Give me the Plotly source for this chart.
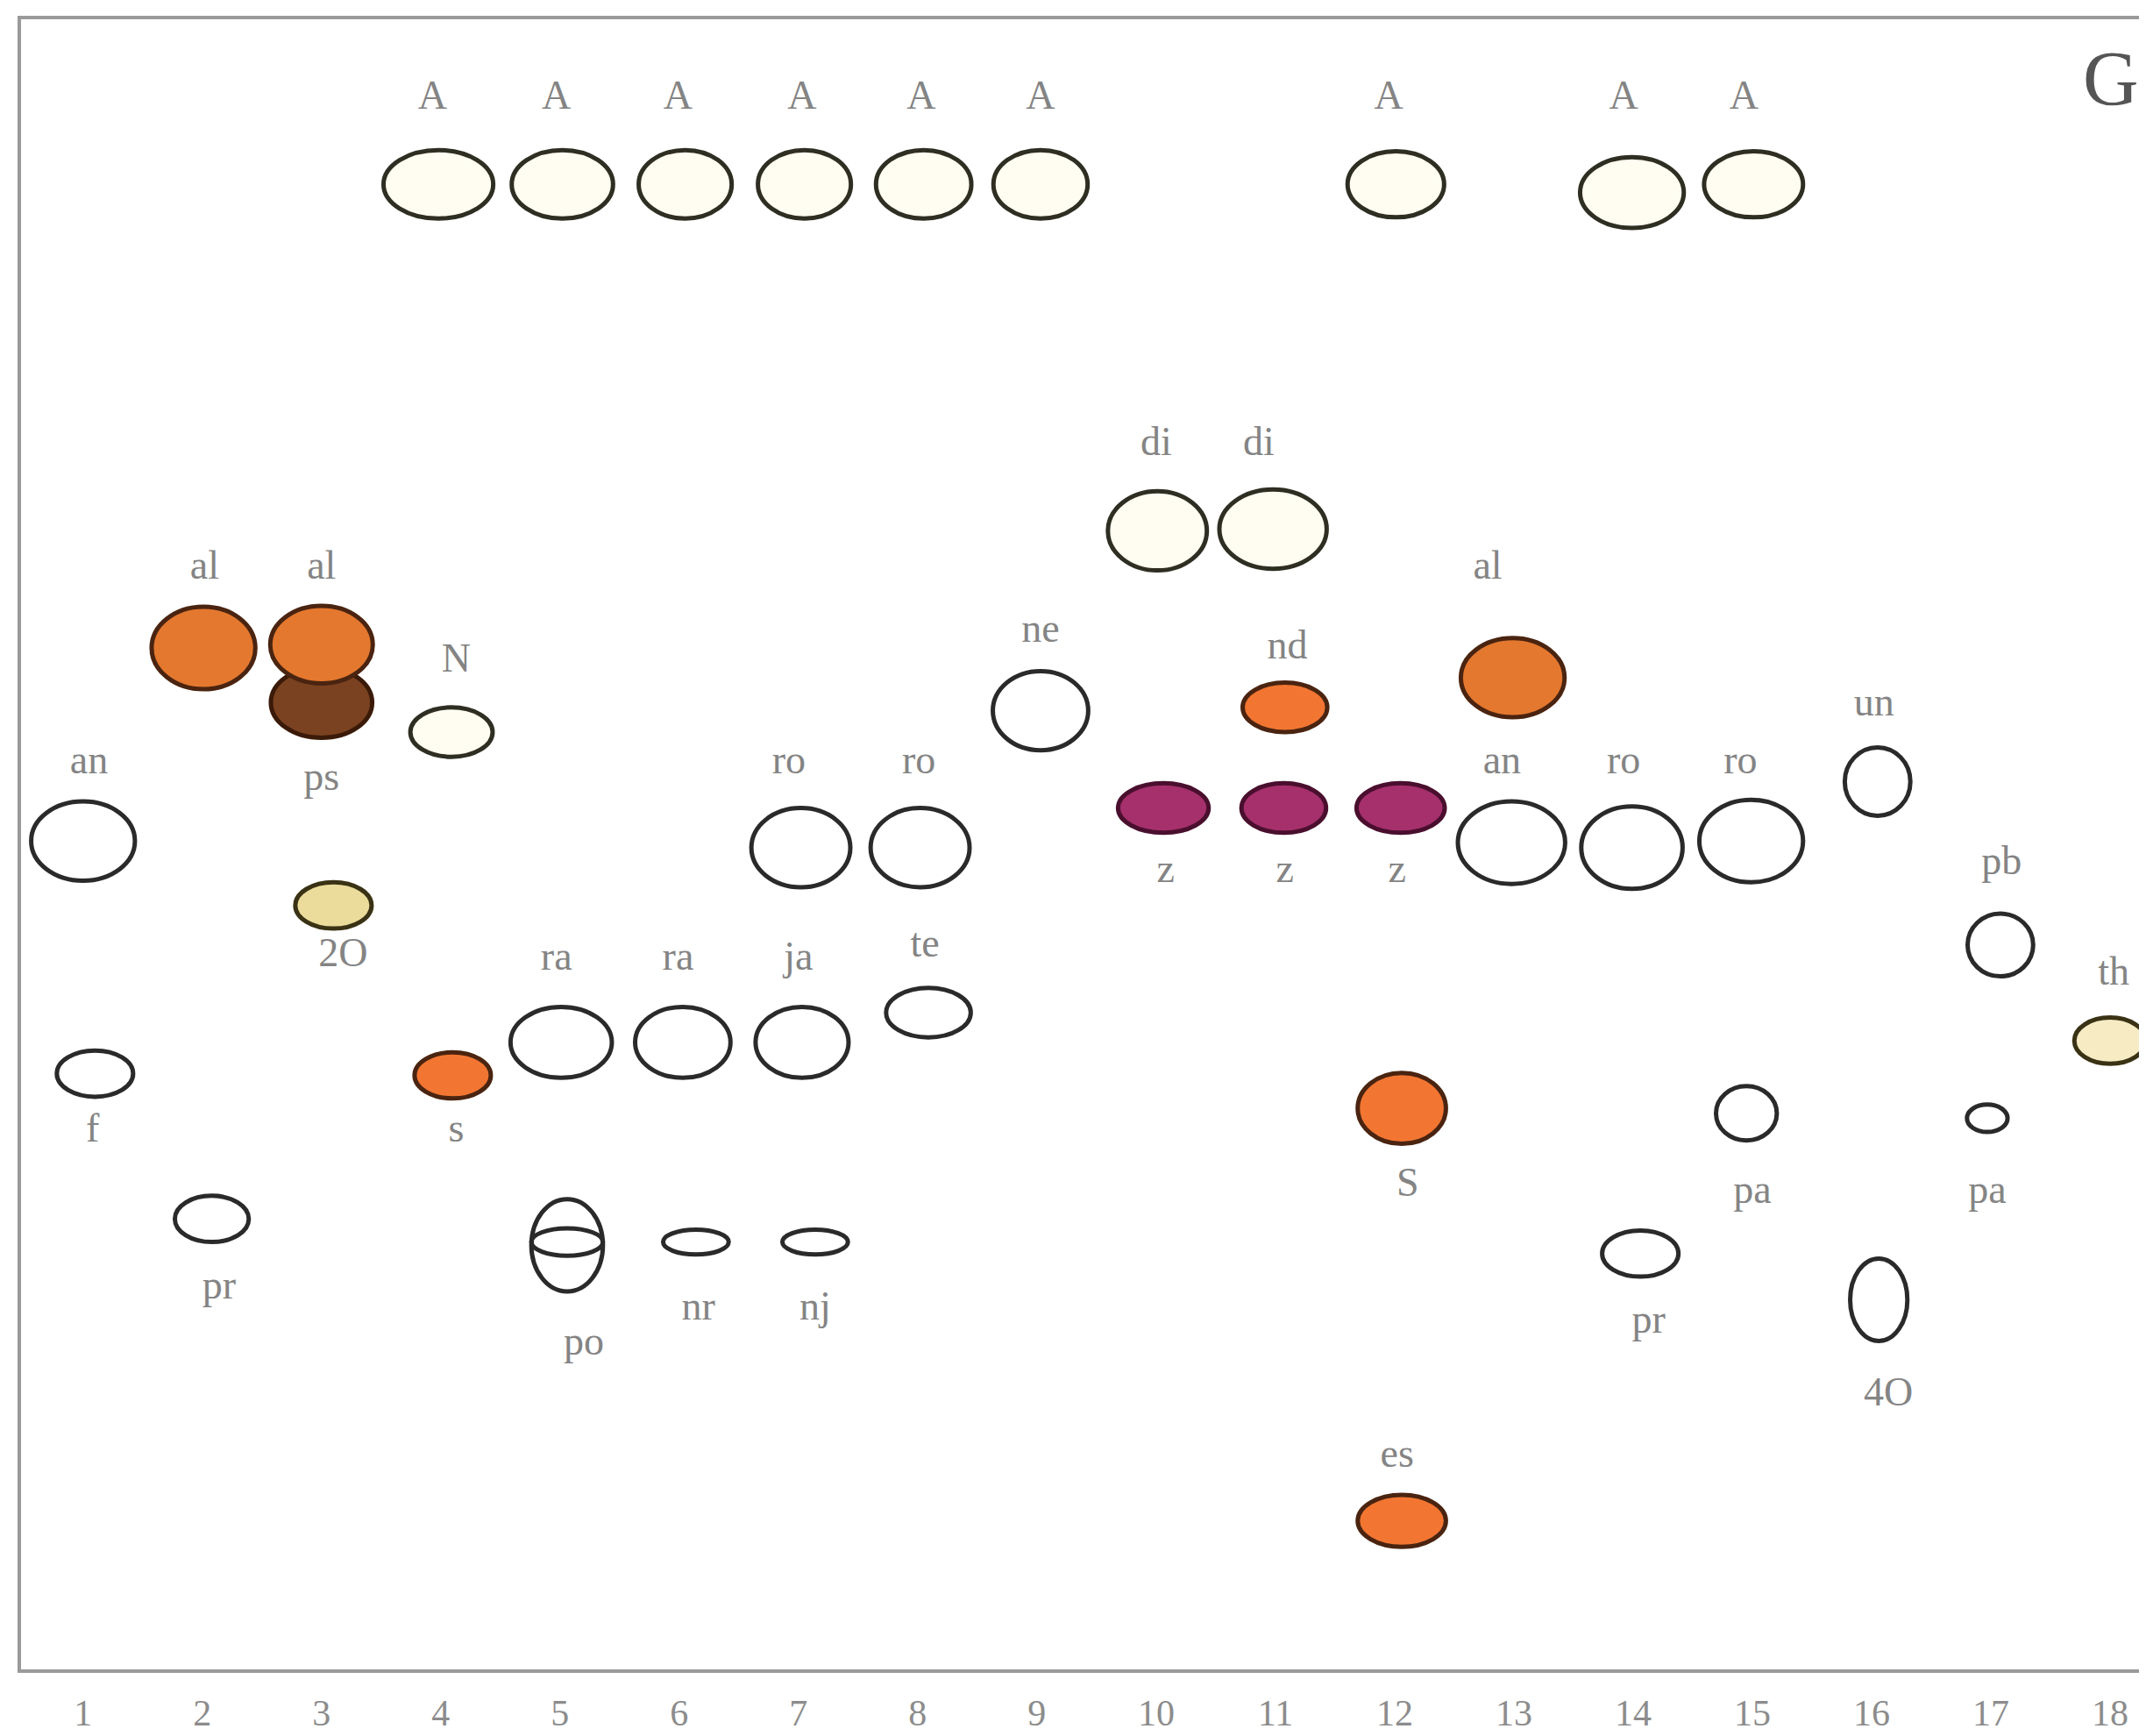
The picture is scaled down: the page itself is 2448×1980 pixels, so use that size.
import plotly.graph_objects as go

# ---------------- data ----------------
lanes = list(range(1, 19))
lane_labels = [str(i) for i in lanes]

# spots: name, lane position, migration (% of plate height), spot width (lane units), spot height (%), kind
spot_name = ["A", "A", "A", "A", "A", "A", "A", "A", "A",
             "an", "f", "al", "pr", "ps", "al", "2O", "N", "s",
             "ra", "po", "po2", "ra", "nr", "ro", "ja", "nj", "ro", "te", "ne",
             "di", "z", "di", "nd", "z", "z", "S", "es",
             "al", "an", "ro", "pr", "ro", "pa", "un", "4O", "pb", "pa", "th"]
spot_x = [3.98, 5.02, 6.05, 7.05, 8.05, 9.03, 12.01, 13.99, 15.01,
          1.00, 1.10, 2.01, 2.08, 3.00, 3.00, 3.10, 4.09, 4.10,
          5.01, 5.06, 5.06, 6.03, 6.14, 7.02, 7.03, 7.14, 8.02, 8.09, 9.03,
          10.01, 10.06, 10.98, 11.08, 11.07, 12.05, 12.06, 12.06,
          12.99, 12.98, 13.99, 14.06, 14.99, 14.95, 16.05, 16.06, 17.08, 16.97, 18.00]
spot_y = [90.0, 90.0, 90.0, 90.0, 90.0, 90.0, 90.0, 89.5, 90.0,
          50.2, 36.1, 61.9, 27.3, 58.6, 62.1, 46.3, 56.8, 36.0,
          38.0, 25.7, 25.9, 38.0, 25.9, 49.8, 38.0, 25.9, 49.8, 39.8, 58.1,
          69.0, 52.2, 69.1, 58.3, 52.2, 52.2, 34.0, 9.0,
          60.1, 50.1, 49.8, 25.2, 50.2, 33.7, 53.8, 22.4, 43.9, 33.4, 38.1]
spot_w = [0.92, 0.85, 0.78, 0.78, 0.80, 0.79, 0.81, 0.87, 0.83,
          0.87, 0.64, 0.87, 0.62, 0.85, 0.86, 0.64, 0.69, 0.64,
          0.85, 0.60, 0.60, 0.80, 0.55, 0.83, 0.78, 0.55, 0.83, 0.71, 0.80,
          0.83, 0.76, 0.90, 0.71, 0.71, 0.74, 0.74, 0.74,
          0.87, 0.90, 0.85, 0.64, 0.87, 0.51, 0.55, 0.48, 0.55, 0.34, 0.60]
spot_h = [4.15, 4.15, 4.15, 4.15, 4.15, 4.15, 4.0, 4.3, 4.0,
          4.8, 2.8, 5.0, 2.8, 4.3, 4.7, 2.8, 3.0, 2.8,
          4.3, 5.6, 1.66, 4.3, 1.5, 4.8, 4.3, 1.5, 4.8, 3.0, 4.8,
          4.8, 3.0, 4.8, 3.0, 3.0, 3.0, 4.3, 3.15,
          4.8, 5.0, 5.0, 2.8, 5.0, 3.3, 4.15, 5.0, 3.8, 1.66, 2.8]
spot_kind = ["cream"] * 9 + \
            ["open", "open", "orange", "open", "brown", "orange", "pale", "cream", "red",
             "open", "open", "ring", "open", "open", "open", "open", "open", "open", "open", "open",
             "cream", "purple", "cream", "red", "purple", "purple", "red", "red",
             "orange", "open", "open", "open", "open", "open", "open", "open", "open", "open", "pale2"]

# labels written next to the spots
label_text = ["A", "A", "A", "A", "A", "A", "A", "A", "A",
              "an", "f", "al", "pr", "al", "ps", "2O", "N", "s",
              "ra", "po", "ra", "nr", "ro", "ja", "nj", "ro", "te", "ne",
              "di", "z", "di", "nd", "z", "z", "S", "es",
              "al", "an", "ro", "pr", "ro", "pa", "un", "4O", "pb", "pa", "th"]
label_x = [3.93, 4.97, 5.99, 7.03, 8.03, 9.03, 11.95, 13.92, 14.93,
           1.05, 1.08, 2.02, 2.14, 3.00, 3.00, 3.18, 4.13, 4.13,
           4.97, 5.20, 5.99, 6.16, 6.92, 7.00, 7.14, 8.01, 8.06, 9.03,
           10.00, 10.08, 10.86, 11.10, 11.08, 12.02, 12.11, 12.02,
           12.78, 12.90, 13.92, 14.13, 14.90, 15.00, 16.02, 16.14, 17.09, 16.97, 18.03]
label_y = [95.2] * 9 + \
          [54.9, 32.6, 66.7, 23.1, 66.7, 53.9, 43.2, 61.1, 32.6,
           43.0, 19.7, 43.0, 21.8, 54.9, 43.0, 21.8, 54.9, 43.8, 62.9,
           74.2, 48.3, 74.2, 61.9, 48.3, 48.3, 29.3, 12.9,
           66.7, 54.9, 54.9, 21.0, 54.9, 28.9, 58.4, 16.6, 48.8, 28.9, 42.1]

panel_letter = "G"

# ---------------- styles ----------------
kind_style = {
    "open":   dict(fill="#ffffff", line="#2a2a2a"),
    "cream":  dict(fill="#fffdf1", line="#2e2e22"),
    "ring":   dict(fill="rgba(0,0,0,0)", line="#2a2a2a"),
    "orange": dict(fill="#e4782f", line="#4a2410"),
    "red":    dict(fill="#f27632", line="#4a2410"),
    "brown":  dict(fill="#7a4220", line="#3a1a08"),
    "purple": dict(fill="#a5306c", line="#4a0f2e"),
    "pale":   dict(fill="#ebdc9c", line="#3a3214"),
    "pale2":  dict(fill="#f6ebc3", line="#3a3214"),
}

fig = go.Figure()

shapes = []
for n, x, y, w, h, k in zip(spot_name, spot_x, spot_y, spot_w, spot_h, spot_kind):
    st = kind_style[k]
    shapes.append(dict(type="circle", xref="x", yref="y",
                       x0=x - w / 2, x1=x + w / 2, y0=y - h / 2, y1=y + h / 2,
                       fillcolor=st["fill"], line=dict(color=st["line"], width=5),
                       layer="above"))

fig.add_trace(go.Scatter(
    x=label_x, y=label_y, text=label_text, mode="text",
    textposition="middle center",
    textfont=dict(family="Liberation Serif", size=46, color="#848484"),
    cliponaxis=False, hoverinfo="skip", showlegend=False))

fig.add_annotation(x=1.0, xref="paper", y=96.4, yref="y", text=panel_letter,
                   showarrow=False, xanchor="right", yanchor="middle", xshift=-14,
                   font=dict(family="Liberation Serif", size=88, color="#555555"))

fig.update_layout(
    width=2448, height=1980,
    margin=dict(l=16, r=0, t=14, b=84),
    paper_bgcolor="white", plot_bgcolor="white",
    shapes=shapes,
    showlegend=False,
    xaxis=dict(range=[0.48, 18.36], tickmode="array", tickvals=lanes, ticktext=lane_labels,
               showgrid=False, zeroline=False, showline=True, mirror=True,
               linecolor="#9a9a9a", linewidth=4, ticks="", ticklabelstandoff=10,
               tickfont=dict(family="Liberation Serif", size=42, color="#8c8c8c")),
    yaxis=dict(range=[0, 100], showgrid=False, zeroline=False, showline=True, mirror=False,
               linecolor="#9a9a9a", linewidth=4, showticklabels=False, ticks=""),
)

fig.write_html("out.html")
